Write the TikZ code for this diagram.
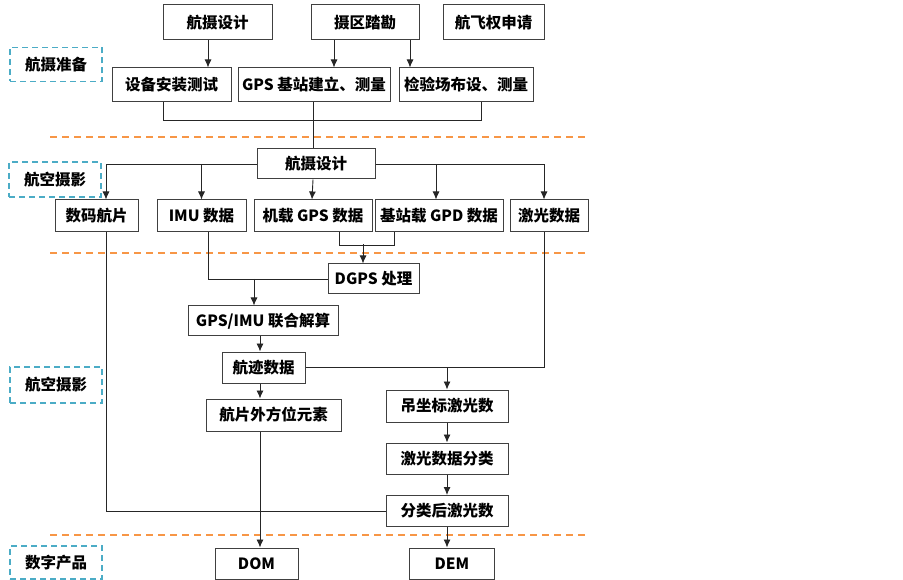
\documentclass[tikz,border=0pt]{standalone}
\usepackage{fontspec}
\newfontfamily\cjk{Noto Sans CJK SC}
\usetikzlibrary{arrows.meta,calc}

\definecolor{sepcol}{HTML}{F79646}
\definecolor{tagcol}{HTML}{4BACC6}

\begin{document}
\begin{tikzpicture}[x=1pt, y=-1pt, font=\cjk\bfseries\fontsize{15.5}{17}\selectfont]
    \tikzset{
        n/.style        =   { rectangle
                            , text centered
                            , draw=black!75
                            , line width=1pt
                            , inner sep=2pt
                            , minimum height=31pt
        }
        , tag/.style    =   { rectangle
                            , draw=tagcol
                            , line width=1.4pt
                            , dash pattern=on 6pt off 4pt
                            , minimum width=92pt
                            , minimum height=34pt
        }
        , arrow/.style  =   { line width=0.9pt
                            , draw=black!85
                            , -{Latex[length=8pt,width=7pt]}
        }
        , line/.style   =   { line width=0.9pt
                            , draw=black!85
        }
        , sep/.style    =   { line width=1.4pt
                            , draw=sepcol
                            , dash pattern=on 7pt off 5pt
        }
    }
    \useasboundingbox (0,0) rectangle (903,580);

    % preparation
    \node(1)[n, minimum width=109pt, minimum height=35pt] at (217.5,22.5) {航摄设计};
    \node(2)[n, minimum width=108pt, minimum height=35pt] at (365,22.5)   {摄区踏勘};
    \node(3)[n, minimum width=101pt, minimum height=35pt] at (493.5,22.5) {航飞权申请};
    \node(4)[n, minimum width=119pt, minimum height=34pt] at (171.5,85)   {设备安装测试};
    \node(5)[n, minimum width=152pt, minimum height=34pt] at (314,85)     {GPS 基站建立、测量};
    \node(6)[n, minimum width=134pt, minimum height=34pt] at (466,85)     {检验场布设、测量};

    % flight
    \node(7)[n, minimum width=118pt, minimum height=30pt] at (316,164)    {航摄设计};
    \node(8)[n, minimum width=83pt, minimum height=32pt]  at (96.5,216)   {数码航片};
    \node(9)[n, minimum width=89pt, minimum height=32pt]  at (201.5,216)  {IMU 数据};
    \node(10)[n, minimum width=118pt, minimum height=32pt] at (313,216)   {机载 GPS 数据};
    \node(11)[n, minimum width=128pt, minimum height=32pt] at (439,216)   {基站载 GPD 数据};
    \node(12)[n, minimum width=78pt, minimum height=32pt]  at (549,216)   {激光数据};

    % processing
    \node(13)[n, minimum width=91pt, minimum height=30pt]  at (373.5,279) {DGPS 处理};
    \node(14)[n, minimum width=150pt, minimum height=30pt] at (263,321)   {GPS/IMU 联合解算};
    \node(15)[n, minimum width=83pt]  at (263.5,367.5) {航迹数据};
    \node(16)[n, minimum width=135pt, minimum height=32pt] at (273.5,415) {航片外方位元素};
    \node(17)[n, minimum width=122pt, minimum height=32pt] at (447,406)   {吊坐标激光数};
    \node(18)[n, minimum width=122pt] at (447,458.5) {激光数据分类};
    \node(19)[n, minimum width=122pt] at (447,511)   {分类后激光数};

    % products
    \node(20)[n, minimum width=83pt] at (256.5,563.5) {DOM};
    \node(21)[n, minimum width=85pt] at (452,563.5)   {DEM};

    % stage tags
    \node(l1)[tag] at (56,64.5)  {航摄准备};
    \node(l2)[tag, minimum height=35pt] at (55,179.5) {航空摄影};
    \node(l3)[tag, minimum height=36pt] at (56,385)   {航空摄影};
    \node(l4)[tag, minimum height=33pt] at (56,562.5) {数字产品};

    % separators
    \draw[sep] (50,137) -- (585,137);
    \draw[sep] (50,253) -- (585,253);
    \draw[sep] (50,535) -- (585,535);

    \draw[arrow] ([xshift=-9.5pt]1.south) -- ([xshift=36.5pt]4.north);
    \draw[arrow] ([xshift=-31pt]2.south)  -- ([xshift=20pt]5.north);
    \draw[arrow] ([xshift=45pt]2.south)   -- ([xshift=-56pt]6.north);
    \draw[line]  ([xshift=-8.5pt]4.south) -- ++(0,18) -| ([xshift=15pt]6.south);
    \draw[line]  ([xshift=-1pt]5.south)   -- ([xshift=-3pt]7.north);

    \draw[arrow] (7.west) -| ([xshift=9.5pt]8.north);
    \draw[arrow] (7.west -| 9.north) -- (9.north);
    \draw[arrow] ([xshift=-3pt]7.south) -- ([xshift=-1pt]10.north);
    \draw[arrow] ($(7.east -| 11.north)+(-3,0)$) -- ([xshift=-3pt]11.north);
    \draw[arrow] (7.east) -| ([xshift=-5pt]12.north);

    \draw[line]  ([xshift=26pt]10.south) -- ++(0,13) -| ([xshift=-45pt]11.south);
    \draw[arrow] ($(13.north)+(-10.5,-19)$) -- ([xshift=-10.5pt]13.north);
    \draw[line]  ([xshift=6.5pt]9.south) |- (13.west);
    \draw[arrow] ($(13.west -| 14.north)+(-9,0)$) -- ([xshift=-9pt]14.north);
    \draw[arrow] ([xshift=-3pt]14.south) -- ([xshift=-3.5pt]15.north);

    \draw[line]  ([xshift=-5pt]12.south) |- (15.east);
    \draw[arrow] (15.east -| 17.north) -- (17.north);
    \draw[arrow] ([xshift=-3.5pt]15.south) -- ([xshift=-13.5pt]16.north);
    \draw[arrow] (17) -- (18);
    \draw[arrow] (18) -- (19);
    \draw[arrow] (19.south) -- ([xshift=-5pt]21.north);
    \draw[line]  ([xshift=9.5pt]8.south) |- (19.west);
    \draw[arrow] ([xshift=-13.5pt]16.south) -- ([xshift=3.5pt]20.north);
\end{tikzpicture}
\end{document}
